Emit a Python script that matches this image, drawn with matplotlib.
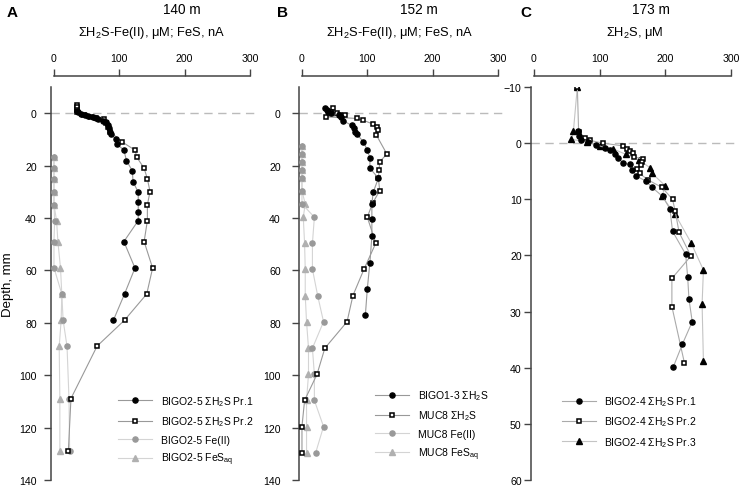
import matplotlib
matplotlib.use("Agg")
import matplotlib.pyplot as plt

plt.rcParams['font.family'] = ['Liberation Sans', 'DejaVu Sans']
plt.rcParams['mathtext.fontset'] = 'custom'
plt.rcParams['mathtext.rm'] = 'Liberation Sans'
plt.rcParams['mathtext.it'] = 'Liberation Sans:italic'
plt.rcParams['mathtext.bf'] = 'Liberation Sans:bold'

# ---------------- Panel A (140 m) ----------------
a_pr1_depth = [-1.0, -0.3, 0.4, 0.8, 1.1, 1.4, 2.0, 2.4, 2.9, 3.5, 4.6, 5.8, 7.1, 8.1, 9.9, 11.9,
               14.1, 18.1, 22.0, 26.1, 30.2, 34.0, 37.8, 41.0, 49.0, 59.1, 69.0, 79.0]
a_pr1_val = [35, 37, 42, 47, 52, 60, 65, 68, 75, 80, 82, 84, 86, 87, 95, 97,
             107, 111, 120, 121, 129, 129, 129, 129, 107, 124, 108, 91]
a_pr2_depth = [-3.0, -2.2, -1.2, -0.3, 0.8, 1.4, 2.0, 2.4, 3.7, 5.2, 7.1, 10.9, 14.1, 16.9, 21.0,
               25.1, 29.9, 35.0, 41.0, 49.0, 59.1, 69.0, 79.0, 88.9, 108.9, 129.1]
a_pr2_val = [35, 35, 35, 36, 46, 56, 65, 77, 80, 82, 86, 104, 124, 127, 138,
             143, 147, 143, 143, 138, 151, 142, 108, 66, 26, 22]
a_fe_depth = [16.6, 21, 25, 30, 35, 41, 49, 59, 69, 79, 89, 109, 129]
a_fe_val = [0, 0, 0, 0, 0, 1, 0, 0, 12, 14, 20, 23, 24]
a_fes_depth = [16.6, 21, 25, 30, 35, 41, 49, 59, 69, 79, 89, 109, 129]
a_fes_val = [0, 0, 0, 0, 0, 4, 6, 10, 12, 11, 8, 9, 9]

# ---------------- Panel B (152 m) ----------------
b_bigo_depth = [-1.8, -1.1, -0.5, 0.1, 0.5, 1.4, 2.9, 4.6, 5.8, 7.1, 8.0, 10.9, 14.1, 17.0, 21.0,
                24.8, 30.2, 34.6, 40.3, 47.0, 57.0, 67.1, 77.2]
b_bigo_val = [35, 38, 40, 45, 56, 60, 63, 76, 79, 81, 84, 94, 100, 104, 104,
              117, 109, 107, 107, 107, 104, 100, 97]
b_muc_depth = [-2.0, -0.5, 0.1, 0.5, 0.8, 1.4, 2.0, 2.7, 4.2, 5.2, 6.5, 8.4, 15.6, 18.5, 21.7,
               24.8, 29.6, 34.4, 39.7, 49.6, 59.5, 69.6, 79.6, 89.7, 99.7, 109.6, 119.6, 129.6]
b_muc_val = [47, 45, 53, 66, 58, 37, 84, 94, 109, 115, 117, 114, 130, 119, 118,
             117, 119, 108, 100, 113, 95, 78, 69, 35, 23, 4, 0, 0]
b_fe_depth = [12.5, 15.6, 18.8, 21.7, 24.8, 29.7, 34.6, 39.7, 49.6, 59.5, 69.6, 79.6, 89.7,
              99.7, 109.6, 119.6, 129.6]
b_fe_val = [0, 0, 0, 0, 0, 0, 0, 19, 16, 16, 24, 33, 16, 19, 19, 33, 21]
b_fes_depth = [12.5, 15.6, 18.8, 21.7, 24.8, 29.7, 34.6, 39.7, 49.6, 59.5, 69.6, 79.6, 89.7,
               99.7, 109.6, 119.6, 129.6]
b_fes_val = [0, 0, 0, 0, 0, 0, 5, 2, 4, 5, 5, 7, 10, 10, 7, 7, 7]

# ---------------- Panel C (173 m) ----------------
c_pr1_depth = [-2.1, -1.2, -0.6, -0.2, 0.3, 0.8, 1.2, 2.0, 2.6, 3.6, 3.8, 4.8, 5.8, 6.8, 7.8,
               9.5, 11.7, 15.7, 19.8, 23.8, 27.8, 31.8, 35.8, 39.9]
c_pr1_val = [67, 69, 71, 82, 95, 108, 116, 123, 128, 136, 146, 149, 155, 171, 179,
             196, 207, 211, 231, 234, 236, 241, 226, 212]
c_pr2_depth = [-10, -2.0, -0.9, -0.5, 0.0, 0.5, 1.0, 1.4, 1.8, 2.4, 2.9, 3.3, 3.9, 4.6, 5.4,
               6.5, 7.9, 10.0, 12.1, 15.9, 20.1, 24.1, 29.1, 39.1]
c_pr2_val = [66, 68, 78, 85, 105, 136, 141, 146, 151, 153, 166, 165, 163, 157, 161,
             173, 195, 211, 215, 221, 239, 210, 210, 229]
c_pr3_depth = [-10, -2.1, -0.7, -0.2, 0.5, 1.0, 2.0, 3.0, 4.4, 5.4, 7.6, 9.5, 12.7, 17.7,
               22.6, 28.7, 38.8]
c_pr3_val = [66, 60, 57, 80, 100, 120, 140, 160, 177, 180, 200, 195, 215, 239,
             258, 256, 258]

x_ticks = [0, 100, 200, 300]
ab_yticks = [0, 20, 40, 60, 80, 100, 120, 140]
c_yticks = [-10, 0, 10, 20, 30, 40, 50, 60]

W, H = 743, 489
fig = plt.figure(figsize=(W / 100, H / 100), dpi=100)

SPINE = '#444444'
LINE_D = '#999999'
LINE_L = '#d4d4d4'
MS_C = 3.7
MS_S = 3.2
MS_T = 4.2


def make_ax(left_px, scale, ylim, yticks, ypad):
    xl = (-5, 308)
    width_px = (xl[1] - xl[0]) * scale
    ax = fig.add_axes([left_px / W, 8 / H, width_px / W, 393 / H])
    ax.set_xlim(*xl)
    ax.set_ylim(ylim[1], ylim[0])
    for s in ['right', 'bottom']:
        ax.spines[s].set_visible(False)
    ax.spines['left'].set_color(SPINE)
    ax.spines['left'].set_linewidth(1.1)
    ax.spines['top'].set_color(SPINE)
    ax.spines['top'].set_linewidth(1.1)
    ax.spines['top'].set_position(('outward', 8))
    ax.spines['top'].set_bounds(0, 300)
    ax.xaxis.tick_top()
    ax.set_xticks(x_ticks)
    ax.set_yticks(yticks)
    ax.tick_params(axis='x', direction='out', length=5, width=1, color=SPINE,
                   labelsize=7.6, pad=4)
    ax.tick_params(axis='y', direction='out', length=5, width=1, color=SPINE,
                   labelsize=7.6, pad=ypad)
    ax.axhline(0, color='#bbbbbb', lw=1, ls=(0, (6, 4)), zorder=0)
    return ax


def legend(ax, x_px, y_px):
    lg = ax.legend(loc='center left', bbox_to_anchor=(x_px / W, 1 - y_px / H),
                   bbox_transform=fig.transFigure, frameon=False, fontsize=7.5,
                   handlelength=3.3, handletextpad=0.8, labelspacing=0.62,
                   borderpad=0, borderaxespad=0)
    return lg


# ---------- A ----------
axA = make_ax(50.7, 0.6533, (-10, 140), ab_yticks, 5)
axA.plot(a_pr1_val, a_pr1_depth, color=LINE_D, lw=0.8, marker='o', ms=MS_C,
         mfc='black', mec='black', zorder=5, label='BIGO2-5 ΣH$_2$S Pr.1')
axA.plot(a_pr2_val, a_pr2_depth, color=LINE_D, lw=0.8, marker='s', ms=MS_S,
         mfc='white', mec='black', mew=1.1, zorder=4, label='BIGO2-5 ΣH$_2$S Pr.2')
axA.plot(a_fe_val, a_fe_depth, color=LINE_L, lw=0.8, marker='o', ms=MS_C,
         mfc='#999999', mec='#999999', zorder=3, label='BIGO2-5 Fe(II)')
axA.plot(a_fes_val, a_fes_depth, color=LINE_L, lw=0.8, marker='^', ms=MS_T,
         mfc='#b0b0b0', mec='#b0b0b0', zorder=2, label='BIGO2-5 FeS$_{\\mathrm{aq}}$')
axA.set_ylabel('Depth, mm', fontsize=9.5)
axA.yaxis.set_label_coords(-0.178, 0.5)
legend(axA, 118, 431.7)

# ---------- B ----------
axB = make_ax(298.7, 0.6533, (-10, 140), ab_yticks, 8)
axB.plot(b_bigo_val, b_bigo_depth, color=LINE_D, lw=0.8, marker='o', ms=MS_C,
         mfc='black', mec='black', zorder=5, label='BIGO1-3 ΣH$_2$S')
axB.plot(b_muc_val, b_muc_depth, color=LINE_D, lw=0.8, marker='s', ms=MS_S,
         mfc='white', mec='black', mew=1.1, zorder=4, label='MUC8 ΣH$_2$S')
axB.plot(b_fe_val, b_fe_depth, color=LINE_L, lw=0.8, marker='o', ms=MS_C,
         mfc='#999999', mec='#999999', zorder=3, label='MUC8 Fe(II)')
axB.plot(b_fes_val, b_fes_depth, color=LINE_L, lw=0.8, marker='^', ms=MS_T,
         mfc='#b0b0b0', mec='#b0b0b0', zorder=2, label='MUC8 FeS$_{\\mathrm{aq}}$')
legend(axB, 375, 426)

# ---------- C ----------
axC = make_ax(530.7, 0.6567, (-10, 60), c_yticks, 1.5)
axC.plot(c_pr1_val, c_pr1_depth, color='#aaaaaa', lw=0.8, marker='o', ms=MS_C,
         mfc='black', mec='black', zorder=5, label='BIGO2-4 ΣH$_2$S Pr.1')
axC.plot(c_pr2_val, c_pr2_depth, color='#aaaaaa', lw=0.8, marker='s', ms=MS_S,
         mfc='white', mec='black', mew=1.1, zorder=4, label='BIGO2-4 ΣH$_2$S Pr.2')
axC.plot(c_pr3_val, c_pr3_depth, color='#c4c4c4', lw=0.8, marker='^', ms=MS_T,
         mfc='black', mec='black', zorder=3, label='BIGO2-4 ΣH$_2$S Pr.3')
legend(axC, 561.7, 422.5)

# ---------- titles / labels ----------
lab_ab = 'ΣH$_2$S-Fe(II), μM; FeS, nA'
fig.text(152 / W, 1 - 33 / H, lab_ab, ha='center', va='center', fontsize=9.3)
fig.text(400 / W, 1 - 33 / H, lab_ab, ha='center', va='center', fontsize=9.3)
fig.text(635 / W, 1 - 33 / H, 'ΣH$_2$S, μM', ha='center', va='center', fontsize=9.3)

fig.text(182 / W, 1 - 9.5 / H, '140 m', ha='center', va='center', fontsize=9.8)
fig.text(418.5 / W, 1 - 9.5 / H, '152 m', ha='center', va='center', fontsize=9.8)
fig.text(651 / W, 1 - 10 / H, '173 m', ha='center', va='center', fontsize=9.8)

fig.text(7 / W, 1 - 13 / H, 'A', ha='left', va='center', fontsize=11, fontweight='bold')
fig.text(276.5 / W, 1 - 13 / H, 'B', ha='left', va='center', fontsize=11, fontweight='bold')
fig.text(520 / W, 1 - 13 / H, 'C', ha='left', va='center', fontsize=11, fontweight='bold')

fig.savefig('out.png', dpi=100)
